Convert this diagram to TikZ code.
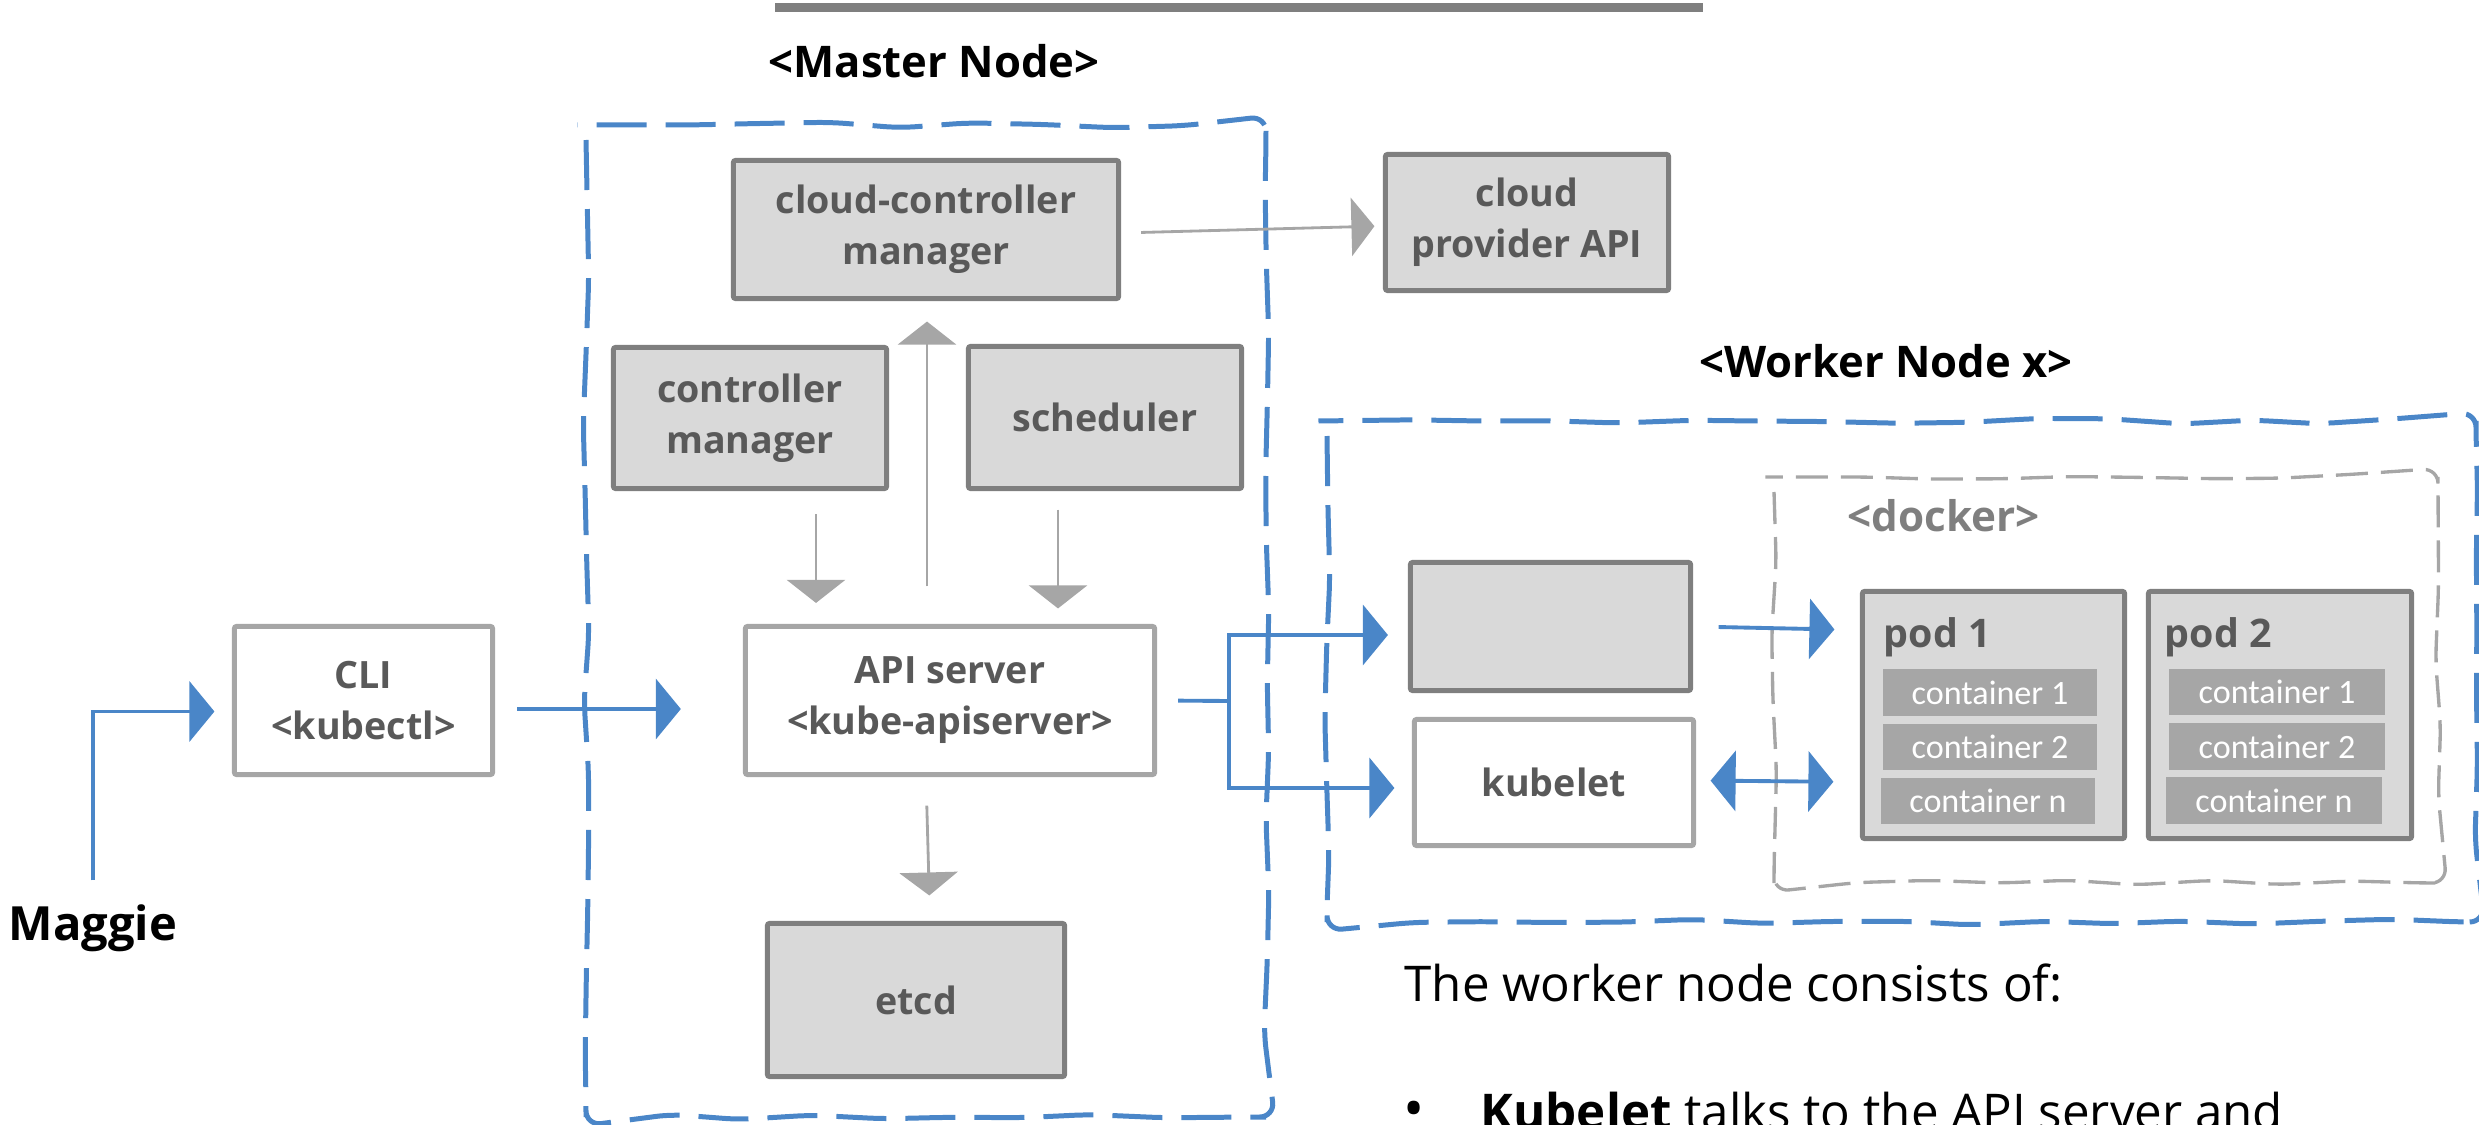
\documentclass[tikz,border=0pt]{standalone}
\usepackage{fontspec}
\setmainfont{Open Sans}
\newfontfamily\contfont{Carlito}
\usetikzlibrary{arrows.meta,calc,decorations.pathmorphing}

\definecolor{kblue}{HTML}{4A86C8}
\definecolor{dgray}{HTML}{7F7F7F}
\definecolor{lgray}{HTML}{A6A6A6}
\definecolor{boxfill}{HTML}{D9D9D9}
\definecolor{tgray}{HTML}{595959}

\tikzset{
  lbl/.style={font=\fontsize{10.7}{14.5}\selectfont\bfseries, text=tgray, align=center},
  darkbox/.style={lbl, draw=dgray, fill=boxfill, line width=1.42pt, inner sep=0pt, rounded corners=0.6pt},
  litebox/.style={lbl, draw=lgray, fill=white, line width=1.42pt, inner sep=0pt, rounded corners=0.6pt},
  contbox/.style={fill=lgray, text=white, inner sep=0pt, font=\contfont\fontsize{9.7}{11}\selectfont,
                  minimum height=0.46cm},
  podlbl/.style={font=\fontsize{11.2}{13}\selectfont\bfseries, text=tgray, inner sep=0pt},
  title/.style={font=\fontsize{12.4}{14}\selectfont\bfseries, text=black, inner sep=0pt},
  bigtext/.style={font=\fontsize{14}{17}\selectfont, text=black, inner sep=0pt},
  region/.style={draw=#1, line width=1.42pt, dash pattern=on 0.5cm off 0.19cm,
                 decorate, decoration={random steps, segment length=0.7cm, amplitude=0.03cm},
                 rounded corners=0.15cm},
  bluearrow/.style={draw=kblue, line width=1.1pt, -{Triangle[length=0.25cm, width=0.6cm]}},
  blueline/.style={draw=kblue, line width=1.1pt},
  grayarrow/.style={draw=lgray, line width=0.8pt, -{Triangle[length=0.23cm, width=0.58cm]}},
}

\begin{document}
\begin{tikzpicture}[x=0.01cm, y=-0.01cm]
\useasboundingbox (0,0) rectangle (2479,1125);
\clip (0,0) rectangle (2479,1125);

% header bar
\draw[dgray, line width=2.3pt] (775,7.5) -- (1703,7.5);

% sketched node outlines
\pgfmathsetseed{12}
\draw[region=kblue] (586,125) rectangle (1266,1117);
\draw[region=kblue] (1327,421) rectangle (2476,922);
\draw[region=lgray, line width=0.95pt, dash pattern=on 0.32cm off 0.13cm] (1774,477) rectangle (2438,883);

% titles
\node[title, anchor=base] (mtitle) at (934,78) {<Master Node>};
\node[title, anchor=base] (wtitle) at (1886,378) {<Worker Node x>};
\node[title, text=dgray, font=\fontsize{12}{14}\selectfont\bfseries, anchor=base west] (dock) at (1847,532) {<docker>};

% master components
\node[darkbox, minimum width=3.85cm, minimum height=1.38cm] (ccm) at (926,229.5) {cloud-controller\\manager};
\node[darkbox, minimum width=2.73cm, minimum height=1.41cm] (cm) at (750,418) {controller\\manager};
\node[darkbox, minimum width=2.73cm, minimum height=1.42cm] (sched) at (1105,417.5) {scheduler};
\node[litebox, minimum width=4.09cm, minimum height=1.48cm] (api) at (950,700.5) {API server\\<kube-apiserver>};
\node[darkbox, minimum width=2.97cm, minimum height=1.53cm] (etcd) at (916,1000) {etcd};

% outside the master
\node[litebox, minimum width=2.58cm, minimum height=1.48cm] (cli) at (363.5,700.5) {CLI\\<kubectl>};
\node[darkbox, minimum width=2.83cm, minimum height=1.36cm] (cloud) at (1527,222.5) {cloud\\provider API};
\node[bigtext, font=\fontsize{13.4}{16}\selectfont\bfseries, anchor=base] (maggie) at (93,940) {Maggie};

% worker components
\node[darkbox, minimum width=2.80cm, minimum height=1.28cm] (rt) at (1550.5,626.5) {};
\node[litebox, minimum width=2.79cm, minimum height=1.26cm] (kubelet) at (1554,782.5) {kubelet};

\node[darkbox, minimum width=2.62cm, minimum height=2.47cm] (pod1) at (1993.5,715) {};
\node[darkbox, minimum width=2.63cm, minimum height=2.47cm] (pod2) at (2280,715) {};
\node[podlbl, anchor=base west] (pod1l) at (1883,647) {pod 1};
\node[podlbl, anchor=base west] (pod2l) at (2164,647) {pod 2};

\node[contbox, minimum width=2.14cm] (p1c1) at (1990,692.5) {container 1};
\node[contbox, minimum width=2.14cm] (p1c2) at (1990,747) {container 2};
\node[contbox, minimum width=2.14cm] (p1cn) at (1988,801) {container n};
\node[contbox, minimum width=2.16cm] (p2c1) at (2277,692) {container 1};
\node[contbox, minimum width=2.16cm] (p2c2) at (2277,746.5) {container 2};
\node[contbox, minimum width=2.16cm] (p2cn) at (2274,800.5) {container n};

% description text
\node[bigtext, anchor=base west] (intro) at (1404,1001) {The worker node consists of:};
\node[bigtext, font=\fontsize{16}{17}\selectfont, anchor=base west] (bullet) at (1403,1128) {•};
\node[bigtext, anchor=base west] (kubeletnote) at (1480,1129) {\textbf{Kubelet} talks to the API server and};

% user to CLI to API server
\draw[bluearrow, shorten <=0.23cm, shorten >=0.175cm] (maggie.north) |- ($(cli.west)+(0,11)$);
\draw[bluearrow, shorten <=0.22cm, shorten >=0.62cm] ($(cli.east)+(0,8.5)$) -- ($(api.west)+(0,8.5)$);

% API server fan-out to the worker
\coordinate (fork) at (1229,701);
\draw[blueline, shorten <=0.21cm] (api.east) -- (fork);
\draw[bluearrow, shorten >=0.2cm] (fork) |- ($(rt.west)+(0,8.5)$);
\draw[bluearrow, shorten >=0.175cm] (fork) |- ($(kubelet.west)+(0,5.5)$);

% inside the worker
\draw[bluearrow, shorten <=0.255cm, shorten >=0.255cm] (rt.east) -- ($(pod1.west)+(0,-85)$);
\draw[bluearrow, {Triangle[length=0.25cm, width=0.6cm]}-{Triangle[length=0.25cm, width=0.6cm]},
      shorten <=0.145cm, shorten >=0.265cm] ($(kubelet.east)+(0,-2)$) -- ($(pod1.west)+(0,67)$);

% master internal traffic
\draw[grayarrow, shorten <=0.2cm, shorten >=0.085cm] ($(ccm.east)+(0,3.5)$) -- ($(cloud.west)+(0,3.5)$);

\coordinate (cmfoot) at ($(cm.south)+(66,0)$);
\draw[grayarrow, shorten <=0.23cm, shorten >=0.21cm] (cmfoot) -- (cmfoot |- api.north);

\coordinate (schedfoot) at ($(sched.south)+(-47,0)$);
\draw[grayarrow, shorten <=0.185cm, shorten >=0.155cm] (schedfoot) -- (schedfoot |- api.north);

\coordinate (apitop) at ($(api.north)+(-23,0)$);
\draw[grayarrow, shorten <=0.375cm, shorten >=0.205cm] (apitop) -- (apitop |- ccm.south);

\coordinate (apifoot) at ($(api.south)+(-24,0)$);
\draw[grayarrow, shorten <=0.285cm, shorten >=0.255cm] (apifoot) -- ($(etcd.north)+(14,0)$);
\end{tikzpicture}
\end{document}
